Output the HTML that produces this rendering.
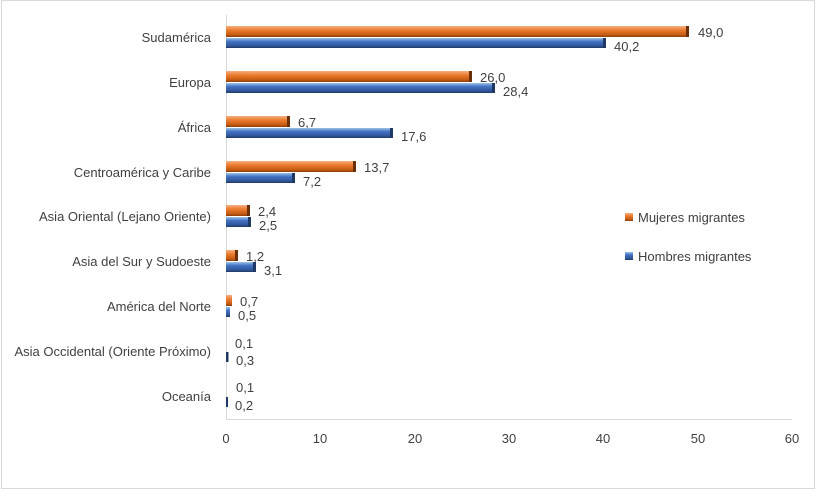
<!DOCTYPE html>
<html><head><meta charset="utf-8"><style>
body{margin:0;background:#fff}
svg{display:block;font-family:"Liberation Sans",sans-serif;font-size:13px;fill:#404040}
</style></head><body>
<svg width="823" height="496" viewBox="0 0 823 496">
<defs>
<linearGradient id="o" x1="0" y1="0" x2="0" y2="1">
<stop offset="0" stop-color="#f4b183"/><stop offset="0.35" stop-color="#ed7d31"/><stop offset="0.8" stop-color="#c55a11"/><stop offset="1" stop-color="#8a3d0a"/></linearGradient>
<linearGradient id="b" x1="0" y1="0" x2="0" y2="1">
<stop offset="0" stop-color="#9dc3e6"/><stop offset="0.35" stop-color="#4472c4"/><stop offset="0.8" stop-color="#2f5597"/><stop offset="1" stop-color="#1f3864"/></linearGradient>
</defs>
<rect x="1.5" y="0.5" width="813" height="488" fill="none" stroke="#d9d9d9"/>
<g stroke="#d9d9d9">
<line x1="226.5" y1="15" x2="226.5" y2="420"/>
<line x1="226" y1="419.5" x2="792" y2="419.5"/>
</g>
<g text-anchor="middle">
<text x="226" y="443">0</text><text x="320" y="443">10</text><text x="415" y="443">20</text><text x="509" y="443">30</text><text x="603" y="443">40</text><text x="698" y="443">50</text><text x="792" y="443">60</text>
</g>
<g text-anchor="end">
<text x="211" y="42">Sudamérica</text>
<text x="211" y="87">Europa</text>
<text x="211" y="132">África</text>
<text x="211" y="177">Centroamérica y Caribe</text>
<text x="211" y="221">Asia Oriental (Lejano Oriente)</text>
<text x="211" y="266">Asia del Sur y Sudoeste</text>
<text x="211" y="311">América del Norte</text>
<text x="211" y="356">Asia Occidental (Oriente Próximo)</text>
<text x="211" y="401">Oceanía</text>
</g>
<g>
<rect x="226" y="26" width="462" height="11" fill="url(#o)"/><rect x="686" y="26" width="3" height="11" fill="#6b2f08"/><text x="698" y="37">49,0</text>
<rect x="226" y="38" width="379" height="10" fill="url(#b)"/><rect x="603" y="38" width="3" height="10" fill="#1f3864"/><text x="614" y="51">40,2</text>
<rect x="226" y="71" width="245" height="11" fill="url(#o)"/><rect x="469" y="71" width="3" height="11" fill="#6b2f08"/><text x="480" y="82">26,0</text>
<rect x="226" y="83" width="268" height="10" fill="url(#b)"/><rect x="492" y="83" width="3" height="10" fill="#1f3864"/><text x="503" y="96">28,4</text>
<rect x="226" y="116" width="63" height="11" fill="url(#o)"/><rect x="287" y="116" width="3" height="11" fill="#6b2f08"/><text x="298" y="127">6,7</text>
<rect x="226" y="128" width="166" height="10" fill="url(#b)"/><rect x="390" y="128" width="3" height="10" fill="#1f3864"/><text x="401" y="141">17,6</text>
<rect x="226" y="161" width="129" height="11" fill="url(#o)"/><rect x="353" y="161" width="3" height="11" fill="#6b2f08"/><text x="364" y="172">13,7</text>
<rect x="226" y="173" width="68" height="10" fill="url(#b)"/><rect x="292" y="173" width="3" height="10" fill="#1f3864"/><text x="303" y="186">7,2</text>
<rect x="226" y="205" width="23" height="11" fill="url(#o)"/><rect x="247" y="205" width="3" height="11" fill="#6b2f08"/><text x="258" y="216">2,4</text>
<rect x="226" y="217" width="24" height="10" fill="url(#b)"/><rect x="248" y="217" width="3" height="10" fill="#1f3864"/><text x="259" y="230">2,5</text>
<rect x="226" y="250" width="11" height="11" fill="url(#o)"/><rect x="235" y="250" width="3" height="11" fill="#6b2f08"/><text x="246" y="261">1,2</text>
<rect x="226" y="262" width="29" height="10" fill="url(#b)"/><rect x="253" y="262" width="3" height="10" fill="#1f3864"/><text x="264" y="275">3,1</text>
<rect x="226" y="295" width="6" height="11" fill="url(#o)"/><text x="240" y="306">0,7</text>
<rect x="226" y="307" width="4" height="10" fill="url(#b)"/><text x="238" y="320">0,5</text>
<rect x="226" y="352" width="2.5" height="10" fill="#1f3864"/><text x="235" y="348">0,1</text><text x="236" y="365">0,3</text>
<rect x="226" y="397" width="2" height="10" fill="#1f3864"/><text x="236" y="392">0,1</text><text x="235" y="410">0,2</text>
</g>
<rect x="625" y="213" width="8" height="8" fill="url(#o)"/><text x="638" y="222">Mujeres migrantes</text>
<rect x="625" y="252" width="8" height="8" fill="url(#b)"/><text x="638" y="261">Hombres migrantes</text>
</svg>
</body></html>
